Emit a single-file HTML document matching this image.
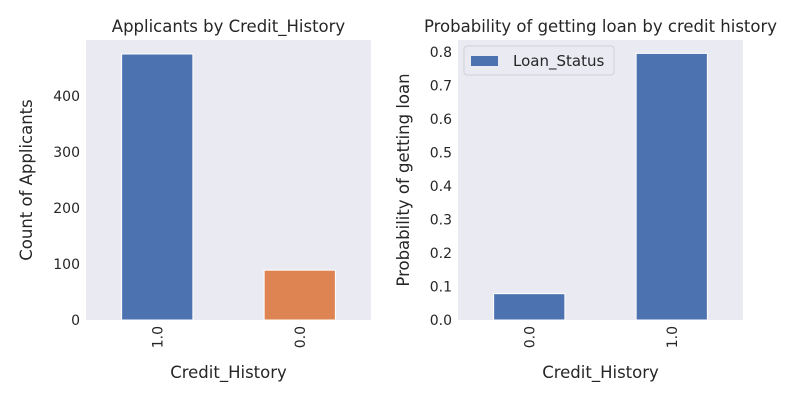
<!DOCTYPE html>
<html><head><meta charset="utf-8"><style>
body{margin:0;background:#fff;}
svg text{font-family:"DejaVu Sans","Liberation Sans",sans-serif;fill:#262626;}
</style></head><body>
<svg id="c" width="800" height="400" xmlns="http://www.w3.org/2000/svg"></svg>
<script>
const leftCats=["1.0","0.0"];
const leftVals=[475,89];
const leftColors=["#4c72b0","#dd8452"];
const leftTicks=[0,100,200,300,400];
const rightCats=["0.0","1.0"];
const rightVals=[0.0786,0.7958];
const rightTicks=[0,0.1,0.2,0.3,0.4,0.5,0.6,0.7,0.8];
const rightTickLabels=["0.0","0.1","0.2","0.3","0.4","0.5","0.6","0.7","0.8"];
const svg=document.getElementById('c');
const NS="http://www.w3.org/2000/svg";
function mk(t,a,p){const e=document.createElementNS(NS,t);for(const k in a)e.setAttribute(k,a[k]);(p||svg).appendChild(e);return e;}
function panel(x0,x1,y0,y1,ymax,cats,vals,colors,ticks,tlabels,title,ylab,name){
  const g=mk('g',{});
  
  
  const bg=mk('rect',{x:x0,y:y0,width:x1-x0,height:y1-y0,fill:'#eaeaf2'},g);
  
  
  const ys=v=>y1-(v/ymax)*(y1-y0);
  const bw=(x1-x0)/cats.length;
  cats.forEach((c,i)=>{
    const cx=x0+bw*(i+0.5);
    const r=mk('rect',{x:cx-bw/4,y:ys(vals[i]),width:bw/2,height:y1-ys(vals[i]),fill:colors[i],stroke:'#fff','stroke-width':1},g);
    
    
    const t=mk('text',{x:0,y:0,'font-size':14,'text-anchor':'end',transform:`translate(${cx+5},${y1+6}) rotate(-90)`},g);
    t.textContent=c;
    
    
  });
  ticks.forEach((v,i)=>{
    const t=mk('text',{x:x0-6,y:ys(v)+5,'font-size':14,'text-anchor':'end'},g);
    t.textContent=tlabels[i];
    
    
  });
  const tt=mk('text',{x:(x0+x1)/2,y:y0-8,'font-size':16.5,'text-anchor':'middle'},g);
  tt.textContent=title;
  
  
  const xl=mk('text',{x:(x0+x1)/2,y:378,'font-size':16.5,'text-anchor':'middle'},g);
  xl.textContent='Credit_History';
  
  
  const yl=mk('text',{x:0,y:0,'font-size':16.5,'text-anchor':'middle',transform:`translate(${name==='left-panel'?32:409},${(y0+y1)/2}) rotate(-90)`},g);
  yl.textContent=ylab;
  
  
  return g;
}
panel(86,371,40,320,500,leftCats,leftVals,leftColors,leftTicks,leftTicks.map(String),'Applicants by Credit_History','Count of Applicants','left-panel');
panel(458,743,40,320,0.8358,rightCats,rightVals,["#4c72b0","#4c72b0"],rightTicks,rightTickLabels,'Probability of getting loan by credit history','Probability of getting loan','right-panel');
const lg=mk('g',{});


mk('rect',{x:464,y:46,width:150,height:29,rx:3,fill:'#eaeaf2',stroke:'#d0d0d8'},lg);
const lp=mk('rect',{x:471,y:56,width:27,height:10,fill:'#4c72b0'},lg);


const lt=mk('text',{x:513,y:66,'font-size':15},lg);
lt.textContent='Loan_Status';


</script>
</body></html>
